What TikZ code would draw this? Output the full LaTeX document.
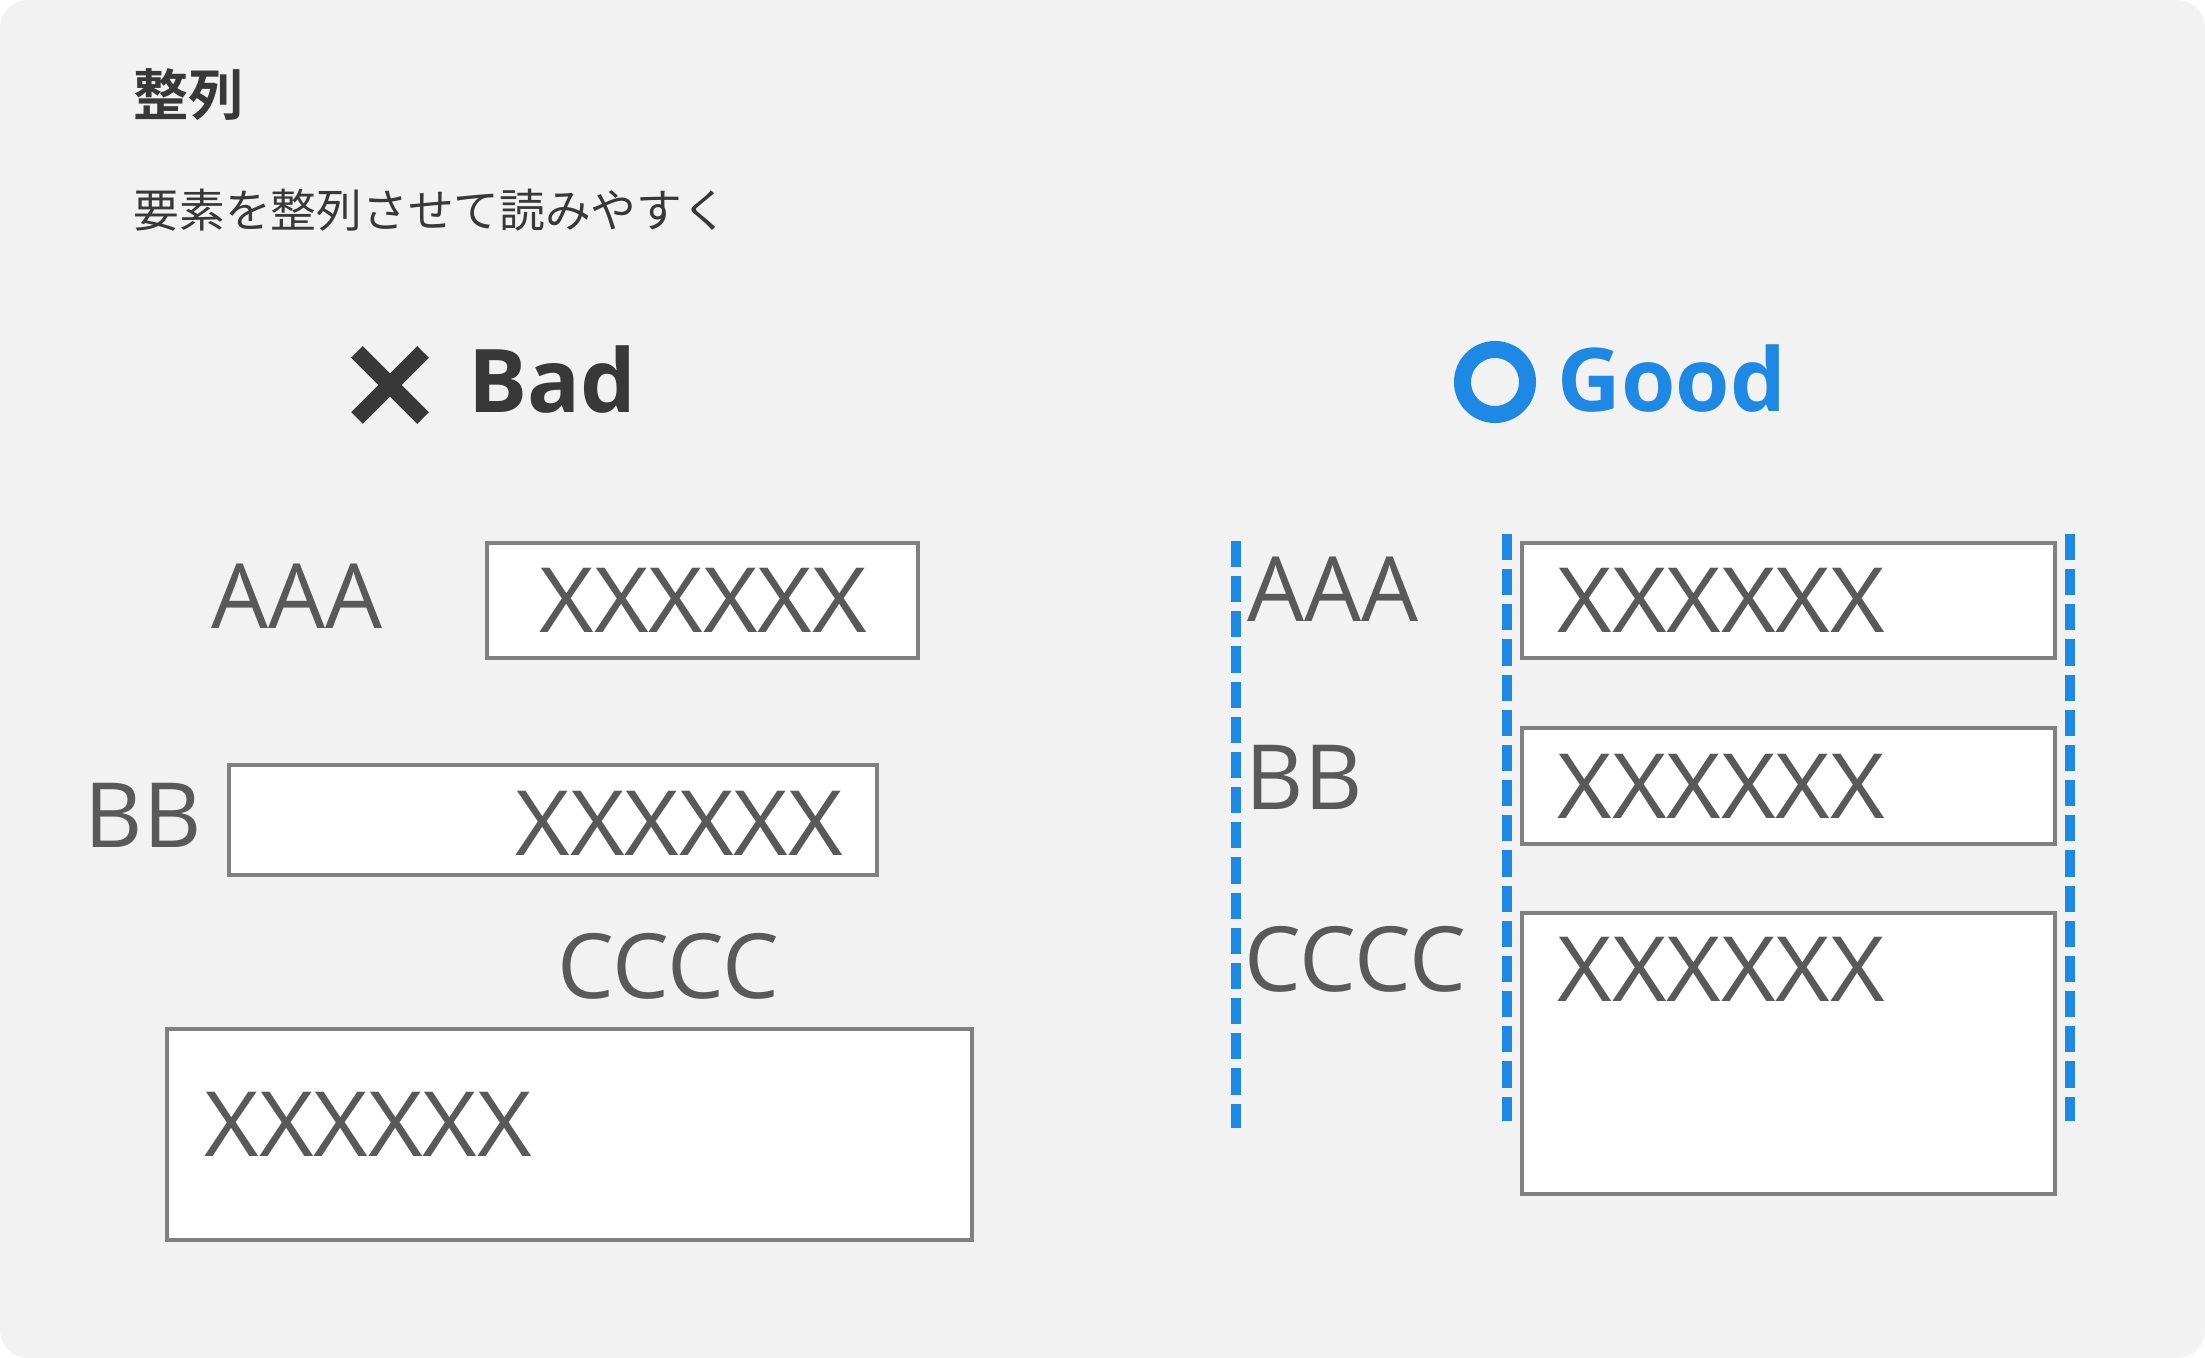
\documentclass[tikz,border=0pt]{standalone}
\usepackage{fontspec}
\setmainfont{Open Sans}
\newfontfamily\valfont[FakeStretch=1.05]{Open Sans}
\newfontfamily\jpfont[BoldFont={Noto Sans CJK JP Bold}]{Noto Sans CJK JP}
\usetikzlibrary{positioning}

\definecolor{bggray}{HTML}{F2F2F2}
\definecolor{inkdark}{HTML}{383838}
\definecolor{inkgray}{HTML}{595959}
\definecolor{framegray}{HTML}{808080}
\definecolor{okblue}{HTML}{1E88E5}

\tikzset{
    lbl/.style={anchor=base west, inner sep=0, text=inkgray, font=\fontsize{25.6pt}{30pt}\selectfont},
    val/.style={lbl, font=\valfont\fontsize{25.6pt}{30pt}\selectfont},
    field/.style={draw=framegray, line width=1.3pt, fill=white},
    guide/.style={draw=okblue, line width=2.8pt, dash pattern=on 7.4pt off 2.6pt},
    verdict/.style={anchor=base west, inner sep=0, font=\fontsize{25pt}{30pt}\selectfont\bfseries}
}

\begin{document}
\begin{tikzpicture}[x=0.01cm, y=-0.01cm]

        \useasboundingbox (0,0) rectangle (2205,1358);
        \fill[bggray, rounded corners=0.28cm] (0,0) rectangle (2205,1358);  % card

        \node[anchor=base west, inner sep=0, text=inkdark, font=\jpfont\bfseries\fontsize{15.7pt}{18pt}\selectfont] (title) at (133,116) {整列};
        \node[anchor=base west, inner sep=0, text=inkdark, font=\jpfont\fontsize{13pt}{15pt}\selectfont] (subtitle) at (133,228) {要素を整列させて読みやすく};

        % Bad side
        \draw[inkdark, line width=4.7pt] (357,352) -- (423,418) (357,418) -- (423,352);
        \node[verdict, text=inkdark] (bad) at (468,413) {Bad};

        \draw[field] (487,543) rectangle (918,658);
        \draw[field] (229,765) rectangle (877,875);
        \draw[field] (167,1029) rectangle (972,1240);

        \node[lbl] (badA) at (211,629) {AAA};
        \node[val] (badAval) at (539,633) {XXXXXX};
        \node[lbl] (badB) at (84,847) {BB};
        \node[val] (badBval) at (515,855) {XXXXXX};
        \node[lbl] (badC) at (557,998) {CCCC};
        \node[val] (badCval) at (204,1156) {XXXXXX};

        % Good side
        \draw[okblue, line width=4.84pt] (1495,382) circle (32.5);
        \node[verdict, text=okblue] (good) at (1557,412) {Good};

        \draw[guide] (1236,541) -- (1236,1128);
        \draw[guide] (1507,534) -- (1507,1121);
        \draw[guide] (2070,534) -- (2070,1121);

        \draw[field] (1522,543) rectangle (2055,658);
        \draw[field] (1522,728) rectangle (2055,844);
        \draw[field] (1522,913) rectangle (2055,1194);

        \node[lbl] (goodA) at (1247,622) {AAA};
        \node[lbl] (goodB) at (1245,810) {BB};
        \node[lbl] (goodC) at (1244,991) {CCCC};
        \foreach \n/\y in {A/633, B/818, C/1001}
            \node[val] (good\n val) at (1557,\y) {XXXXXX};

\end{tikzpicture}
\end{document}
